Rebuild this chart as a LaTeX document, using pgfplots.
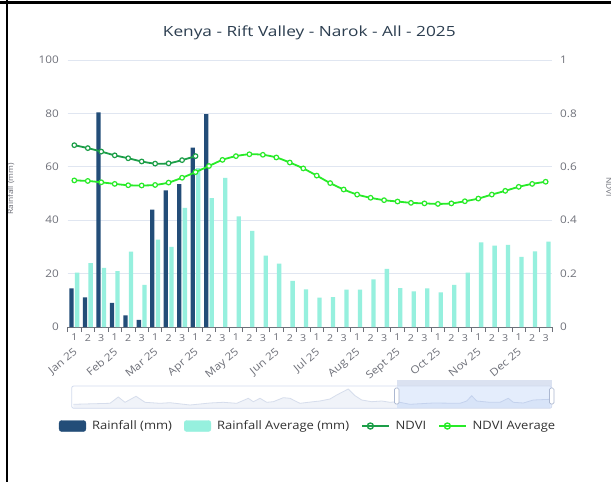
\documentclass[border=0pt]{standalone}
\usepackage{fontspec}
\setmainfont{Open Sans}[FakeStretch=1.12]
\usepackage{pgfplots}
\pgfplotsset{compat=1.18}

\definecolor{rainc}{RGB}{35,77,120}
\definecolor{avgc}{RGB}{150,240,222}
\definecolor{ndvic}{RGB}{28,158,72}
\definecolor{ndviavgc}{RGB}{40,235,40}
\definecolor{tickc}{RGB}{110,112,121}
\definecolor{gridc}{RGB}{224,230,241}
\definecolor{titlec}{RGB}{44,62,80}
\definecolor{legc}{RGB}{51,51,51}
\definecolor{framec}{RGB}{210,219,238}
\definecolor{prevfill}{RGB}{240,243,249}
\definecolor{prevline}{RGB}{214,221,236}
\definecolor{selc}{RGB}{135,175,245}
\definecolor{handlec}{RGB}{172,184,209}

% dekad values, x = 0 (Jan 1) ... 35 (Dec 3)
\pgfplotstableread{
x y
0 14.5
1 11.1
2 80.4
3 9.0
4 4.4
5 2.7
6 44.0
7 51.2
8 53.5
9 67.2
10 79.7
}\rain
\pgfplotstableread{
x y
0 20.4
1 23.9
2 22.1
3 20.9
4 28.2
5 15.8
6 32.7
7 30.0
8 44.6
9 59.5
10 48.3
11 55.9
12 41.4
13 36.0
14 26.7
15 23.7
16 17.3
17 14.1
18 11.0
19 11.2
20 14.0
21 14.0
22 17.8
23 21.8
24 14.6
25 13.3
26 14.5
27 13.0
28 15.8
29 20.4
30 31.7
31 30.5
32 30.8
33 26.3
34 28.3
35 32.0
}\rainavg
\pgfplotstableread{
x y
0 0.681
1 0.670
2 0.657
3 0.643
4 0.632
5 0.620
6 0.612
7 0.613
8 0.625
9 0.640
}\ndvi
\pgfplotstableread{
x y
0 0.549
1 0.547
2 0.542
3 0.536
4 0.531
5 0.530
6 0.532
7 0.541
8 0.559
9 0.580
10 0.603
11 0.626
12 0.640
13 0.647
14 0.645
15 0.635
16 0.616
17 0.594
18 0.567
19 0.539
20 0.515
21 0.496
22 0.484
23 0.475
24 0.470
25 0.465
26 0.463
27 0.461
28 0.463
29 0.471
30 0.481
31 0.496
32 0.510
33 0.525
34 0.536
35 0.544
}\ndviavg
% overview strip of the data zoom slider (x in px, height in px)
\pgfplotstableread{
x y
73.3 4.0
110 5.0
118.3 11.3
125 6.0
136 12.0
145 6.0
160 5.0
170 5.6
190 3.3
210 5.3
223.3 6.0
236.7 5.0
248.3 10.0
253.3 6.6
260 10.0
266.7 6.0
273.3 6.6
283.3 10.6
290 10.0
296.7 6.6
300 5.0
313.3 6.6
320 7.3
330 9.3
336.7 13.3
348.3 19.3
355 12.6
361.7 8.3
371.7 6.6
381.7 7.3
390 6.0
396.7 6.6
410 4.0
433.3 5.3
460 5.0
466.7 7.3
471.7 12.6
476.7 7.3
490 6.0
500 6.0
508.3 10.0
513.3 6.0
523.3 5.3
533.3 8.3
550 9.0
}\preview

\begin{document}
\begin{tikzpicture}
\useasboundingbox (0pt,0pt) rectangle (611pt,-482pt);
\fill[white] (0pt,0pt) rectangle (611pt,-482pt);

\node[font=\fontsize{14}{16}\selectfont, text=titlec, anchor=base, xscale=1.1] at (309.3pt,-36.2pt)
  {Kenya - Rift Valley - Narok - All - 2025};

% rainfall bars, left axis
\begin{axis}[
  at={(67.6pt,-327pt)}, anchor=south west,
  scale only axis, width=484.8pt, height=267pt,
  xmin=-0.5, xmax=35.5, ymin=0, ymax=100,
  axis x line*=bottom, axis y line*=left,
  x axis line style={draw=tickc, line width=0.8pt},
  y axis line style={draw=none},
  ytick={0,20,40,60,80,100},
  ytick style={draw=none},
  ymajorgrids, grid style={draw=gridc, line width=0.8pt},
  xtick={0,...,35},
  xticklabels={1,2,3,1,2,3,1,2,3,1,2,3,1,2,3,1,2,3,1,2,3,1,2,3,1,2,3,1,2,3,1,2,3,1,2,3},
  minor xtick={-0.5,0.5,...,35.5},
  major tick length=0pt, minor tick length=4.5pt, tick align=outside,
  minor x tick style={draw=tickc, line width=0.8pt},
  x tick label style={font=\fontsize{9.5}{11}\selectfont, text=tickc, inner sep=0pt, yshift=-7pt},
  y tick label style={font=\fontsize{10.5}{12}\selectfont, text=tickc, inner sep=0pt, xshift=-8.5pt},
  /pgf/number format/assume math mode=true,
  extra x ticks={0,3,6,9,12,15,18,21,24,27,30,33},
  extra x tick labels={Jan 25,Feb 25,Mar 25,Apr 25,May 25,Jun 25,Jul 25,Aug 25,Sept 25,Oct 25,Nov 25,Dec 25},
  extra x tick style={grid=none, major tick length=0pt,
    xticklabel style={font=\fontsize{10.5}{12}\selectfont, xshift=-1.5pt, yshift=-13pt, rotate=40, anchor=north east}},
  ylabel={Rainfall (mm)},
  ylabel style={at={(axis description cs:-0.1172,0.517)}, anchor=center,
    font=\fontsize{7.5}{9}\selectfont, text=tickc},
  ybar, bar width=4.3pt,
  clip=false,
]
\addplot[fill=rainc, draw=none, bar shift=-2.8pt] table {\rain};
\addplot[fill=avgc, draw=none, bar shift=2.8pt] table {\rainavg};
\end{axis}

% NDVI lines, right axis
\begin{axis}[
  at={(67.6pt,-327pt)}, anchor=south west,
  scale only axis, width=484.8pt, height=267pt,
  xmin=-0.5, xmax=35.5, ymin=0, ymax=1,
  axis x line=none, axis y line*=right,
  y axis line style={draw=none},
  ytick={0,0.2,0.4,0.6,0.8,1},
  ytick style={draw=none}, major tick length=0pt,
  y tick label style={font=\fontsize{10.5}{12}\selectfont, text=tickc, inner sep=0pt, xshift=7.6pt},
  /pgf/number format/assume math mode=true,
  ylabel={NDVI},
  ylabel style={at={(axis description cs:1.1168,0.524)}, anchor=center, rotate=180,
    font=\fontsize{7.5}{9}\selectfont, text=tickc},
  legend style={at={(0.494,-0.3708)}, anchor=center, draw=none, fill=none,
    font=\fontsize{11.6}{13}\selectfont, text=legc,
    nodes={inner xsep=0pt, inner ysep=1pt},
    /tikz/every odd column/.append style={column sep=6pt},
    /tikz/every even column/.append style={column sep=12pt}},
  legend columns=4,
  clip=false,
]
\addlegendimage{legend image code/.code={\fill[rainc, rounded corners=2.5pt] (0pt,-5.5pt) rectangle (26.7pt,5.5pt);}}
\addlegendentry{Rainfall (mm)}
\addlegendimage{legend image code/.code={\fill[avgc, rounded corners=2.5pt] (0pt,-5.5pt) rectangle (26.7pt,5.5pt);}}
\addlegendentry{Rainfall Average (mm)}
\addplot[ndvic, line width=1.8pt, smooth, tension=0.5, mark=*, mark size=2.3pt,
  mark options={fill=white, draw=ndvic, line width=1.2pt},
  legend image code/.code={\draw[ndvic, line width=1.6pt] (0pt,0pt) -- (16.7pt,0pt);
    \draw[ndvic, line width=1.4pt, fill=white] (8.35pt,0pt) circle (3pt);
    \path (0pt,0pt) -- (26.7pt,0pt);}] table {\ndvi};
\addlegendentry{NDVI}
\addplot[ndviavgc, line width=1.8pt, smooth, tension=0.5, mark=*, mark size=2.3pt,
  mark options={fill=white, draw=ndviavgc, line width=1.2pt},
  legend image code/.code={\draw[ndviavgc, line width=1.6pt] (0pt,0pt) -- (16.7pt,0pt);
    \draw[ndviavgc, line width=1.4pt, fill=white] (8.35pt,0pt) circle (3pt);
    \path (0pt,0pt) -- (26.7pt,0pt);}] table {\ndviavg};
\addlegendentry{NDVI Average}
\end{axis}

% data zoom slider
\begin{axis}[
  at={(71.7pt,-408.3pt)}, anchor=south west,
  scale only axis, width=480pt, height=22.3pt,
  xmin=71.7, xmax=551.7, ymin=0, ymax=22.3,
  hide axis, clip=false,
]
\addplot[draw=none, fill=prevfill] table {\preview} \closedcycle;
\addplot[prevline, line width=0.8pt] table {\preview};
\fill[selc, opacity=0.22] (axis cs:396.7,0) rectangle (axis cs:551.7,22.3);
\fill[framec, opacity=0.8] (axis cs:396.7,22.3) rectangle (axis cs:551.7,28.3);
\draw[framec, line width=0.8pt, rounded corners=2pt] (axis cs:71.7,0) rectangle (axis cs:551.7,22.3);
\draw[handlec, fill=white, line width=0.7pt, rounded corners=1.5pt] (axis cs:394.4,4.3) rectangle (axis cs:399,20.3);
\draw[handlec, fill=white, line width=0.7pt, rounded corners=1.5pt] (axis cs:549.4,4.3) rectangle (axis cs:554,20.3);
\end{axis}

% screenshot frame
\draw[black, line width=2.5pt] (7.2pt,0pt) -- (7.2pt,-482pt);
\draw[black, line width=2.5pt] (0pt,-2.5pt) -- (611pt,-2.5pt);
\end{tikzpicture}
\end{document}
